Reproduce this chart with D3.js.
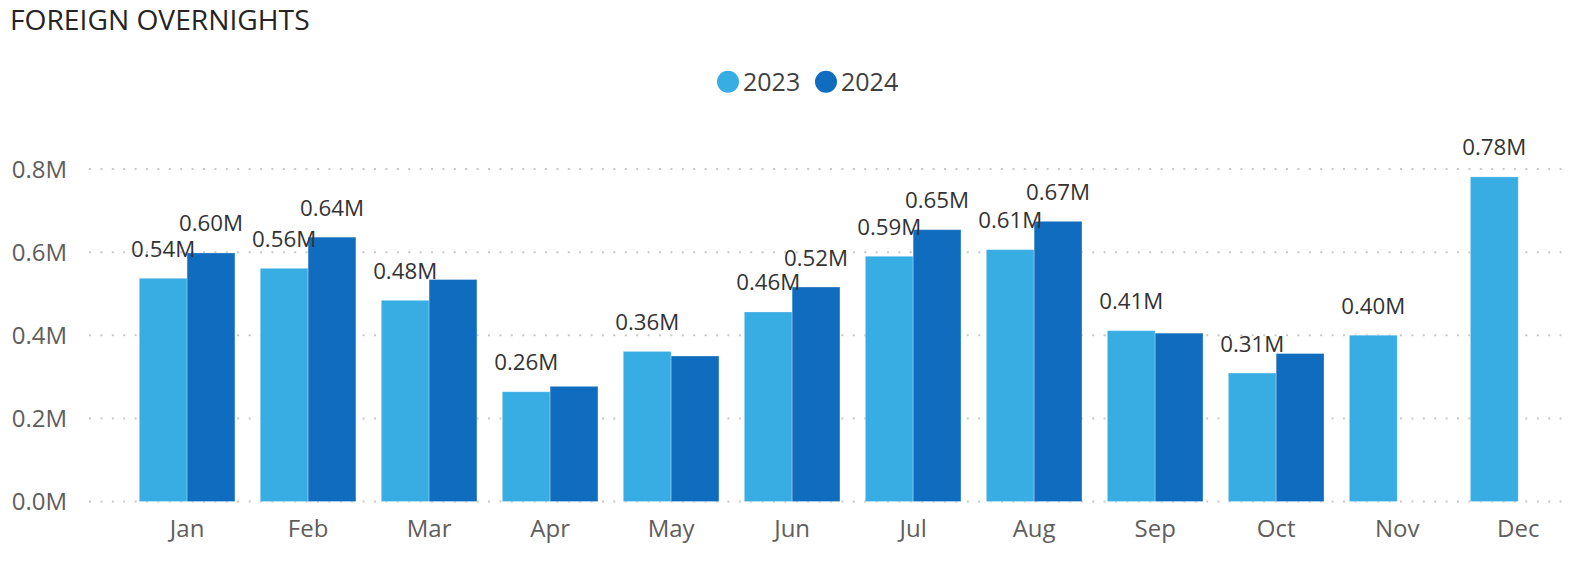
<!DOCTYPE html>
<html>
<head>
<meta charset="utf-8">
<script src="https://cdn.jsdelivr.net/npm/d3@7"></script>
<style>
  html, body { margin: 0; padding: 0; background: #fff; }
  svg { display: block; font-family: "Open Sans", "Noto Sans", sans-serif; }
</style>
</head>
<body>
<svg id="chart" width="1575" height="561"></svg>
<script>
const months = ["Jan","Feb","Mar","Apr","May","Jun","Jul","Aug","Sep","Oct","Nov","Dec"];
const seriesNames = ["2023","2024"];
const values2023 = [0.537, 0.561, 0.484, 0.264, 0.361, 0.456, 0.590, 0.606, 0.411, 0.309, 0.400, 0.781];
const values2024 = [0.598, 0.636, 0.534, 0.277, 0.350, 0.516, 0.654, 0.674, 0.405, 0.356, null, null];
const yTicks = [0, 0.2, 0.4, 0.6, 0.8];
const colors = ["#37ADE4", "#106CBE"];

const svg = d3.select("#chart");

const x = d3.scaleBand().domain(months).range([139.3, 1566]).paddingInner(0.21).paddingOuter(0);
const x1 = d3.scaleBand().domain(seriesNames).range([0, x.bandwidth()]).padding(0);
const y = d3.scaleLinear().domain([0, 0.8]).range([501.5, 169]);

// Title
svg.append("text").attr("x", 10).attr("y", 30)
  .attr("font-size", 28.2).attr("fill", "#252423").text("FOREIGN OVERNIGHTS");

// Legend
const legend = svg.append("g");
const legendPos = [728, 826];
seriesNames.forEach((s, i) => {
  legend.append("circle").attr("cx", legendPos[i]).attr("cy", 81.7).attr("r", 11).attr("fill", colors[i]);
  legend.append("text").attr("x", legendPos[i] + 15).attr("y", 91)
    .attr("font-size", 25).attr("fill", "#404040").text(s);
});

// Gridlines
const grid = svg.append("g");
grid.selectAll("line").data(yTicks).join("line")
  .attr("x1", 89).attr("x2", 1566)
  .attr("y1", d => y(d)).attr("y2", d => y(d))
  .attr("stroke", "#c8c8c8").attr("stroke-width", 2)
  .attr("stroke-dasharray", "2 9.4");

// Y axis labels
const yAxis = d3.axisLeft(y).tickValues(yTicks).tickSize(0).tickPadding(0)
  .tickFormat(d => d3.format(".1f")(d) + "M");
const yg = svg.append("g").attr("transform", "translate(67,0)").call(yAxis);
yg.select(".domain").remove();
yg.selectAll("text").attr("font-size", 24).attr("fill", "#605e5c")
  .attr("font-family", "'Open Sans', 'Noto Sans', sans-serif").attr("dy", "0.35em");

// X axis labels
const xAxis = d3.axisBottom(x).tickSize(0).tickPadding(0);
const xg = svg.append("g").attr("transform", "translate(0,537)").call(xAxis);
xg.select(".domain").remove();
xg.selectAll("text").attr("font-size", 24).attr("fill", "#605e5c")
  .attr("font-family", "'Open Sans', 'Noto Sans', sans-serif").attr("dy", 0);

// Bars
const data = [];
months.forEach((m, i) => {
  [values2023[i], values2024[i]].forEach((v, k) => {
    if (v !== null) data.push({ month: m, series: seriesNames[k], k, value: v });
  });
});

svg.append("g").selectAll("rect").data(data).join("rect")
  .attr("x", d => x(d.month) + x1(d.series))
  .attr("y", d => y(d.value))
  .attr("width", x1.bandwidth())
  .attr("height", d => y(0) - y(d.value))
  .attr("fill", d => colors[d.k])
  .attr("stroke", "#ffffff").attr("stroke-opacity", 0.25).attr("stroke-width", 1);

// Data labels with collision hiding (2023 first, then 2024)
const labelG = svg.append("g");
const placed = [];
const fs = 22.3;
const ordered = data.slice().sort((a, b) => a.k - b.k);
ordered.forEach(d => {
  const cx = x(d.month) + x1(d.series) + x1.bandwidth() / 2;
  const by = y(d.value) - 21.5;
  const t = labelG.append("text").attr("x", cx).attr("y", by)
    .attr("text-anchor", "middle").attr("font-size", fs).attr("fill", "#333333")
    .text(d3.format(".2f")(d.value) + "M");
  const w = t.node().getComputedTextLength();
  const box = { x0: cx - w / 2, x1: cx + w / 2, y0: by - fs * 0.8, y1: by + fs * 0.2 };
  const hit = placed.some(b => box.x0 < b.x1 && box.x1 > b.x0 && box.y0 < b.y1 && box.y1 > b.y0);
  if (hit) t.remove(); else placed.push(box);
});
</script>
</body>
</html>
